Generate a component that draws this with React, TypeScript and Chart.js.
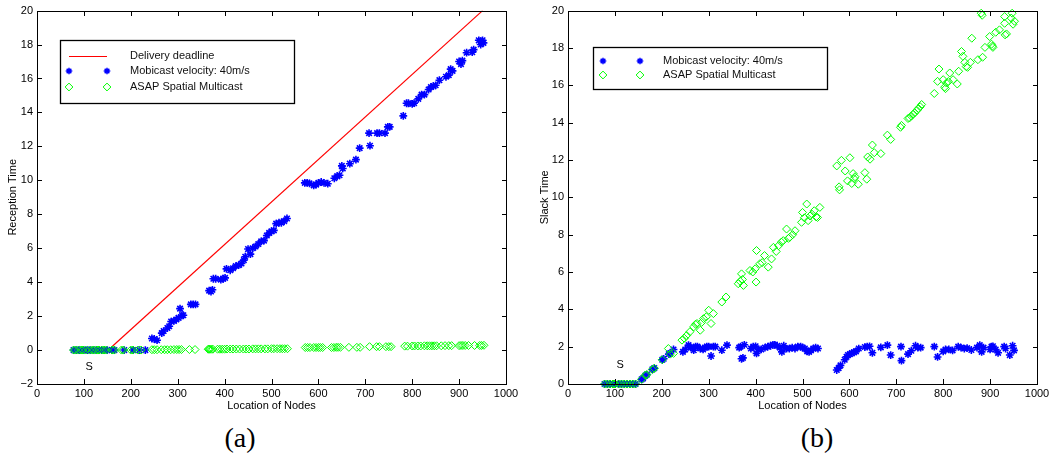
import React, { useEffect, useRef } from 'react';
import { Chart, registerables } from 'chart.js';

Chart.register(...registerables);

const FONT = '"Liberation Sans", Arial, Helvetica, sans-serif';

// ---------- data ----------
const xTickStep = 100;
const deadlineLoc = [152, 950];
const deadlineTime = [0, 20];

// (a) Reception time
const mobicastLocA = [78, 84, 90, 96, 100, 108, 114, 120, 126, 132, 138, 144, 150, 160, 165, 186, 205, 218, 231,
  245, 250, 256, 266, 270, 278, 282, 286, 292, 297, 302, 305, 309, 312, 328, 333, 338,
  367, 371, 374, 376, 381, 392, 397, 401, 404, 412, 418, 424, 430, 436, 441, 444, 450, 455, 460, 466, 472, 478, 484, 490, 495, 500, 505, 510, 516, 521, 527, 533,
  571, 576, 581, 590, 595, 600, 606, 612, 620, 634, 640, 645, 650, 652, 667, 680, 688, 708, 710, 725, 730, 742, 748, 752,
  781, 788, 792, 800, 804, 813, 820, 826, 835, 840, 845, 850, 858, 872, 878, 882, 886, 900, 904, 907, 916, 928, 931, 942, 946, 950, 952];
const mobicastTimeA = [0, 0, 0, 0, 0, 0, 0, 0, 0, 0, 0, 0, 0, 0, 0, 0, 0, 0, 0,
  0.68, 0.65, 0.58, 1.0, 1.12, 1.3, 1.4, 1.68, 1.72, 1.8, 1.9, 2.44, 2.05, 2.05, 2.69, 2.69, 2.69,
  3.5, 3.45, 3.55, 4.2, 4.2, 4.15, 4.2, 4.25, 4.78, 4.7, 4.82, 4.95, 5.0, 5.1, 5.3, 5.5, 5.95, 5.65, 6.0, 6.1, 6.25, 6.4, 6.45, 6.75, 6.9, 7.0, 7.05, 7.45, 7.5, 7.5, 7.6, 7.75,
  9.85, 9.85, 9.82, 9.7, 9.75, 9.85, 9.9, 9.85, 9.8, 10.12, 10.25, 10.3, 10.85, 10.7, 10.98, 11.22, 11.9, 12.78, 12.04, 12.78, 12.78, 12.78, 13.15, 13.15,
  13.8, 14.54, 14.54, 14.5, 14.55, 14.8, 15.05, 15.05, 15.35, 15.5, 15.55, 15.6, 15.9, 16.1, 16.2, 16.55, 16.45, 17.0, 16.85, 17.05, 17.52, 17.55, 17.7, 18.25, 18.0, 18.25, 18.1];

const asapLocA = [78, 82, 88, 94, 98, 104, 112, 118, 122, 128, 132, 138, 143, 148, 160, 165, 180, 184, 200, 205, 215, 222,
  245, 250, 256, 265, 272, 278, 285, 292, 298, 303, 308, 325, 337,
  365, 367, 369, 372, 375, 385, 390, 395, 400, 405, 412, 418, 425, 432, 440, 446, 452, 460, 466, 472, 478, 486, 492, 500, 505, 512, 518, 523, 528, 534,
  572, 577, 582, 590, 595, 600, 604, 609, 628, 633, 638, 642, 647, 665, 682, 689,
  709, 724, 730, 744, 750, 755,
  784, 790, 800, 805, 812, 818, 826, 832, 837, 842, 847, 852, 862, 870, 878, 884, 900, 904, 908, 913, 920, 933, 944, 948, 953];
const asapTimeA = [0, 0, 0, 0, 0, 0, 0, 0, 0, 0, 0, 0, 0, 0, 0, 0, 0, 0, 0, 0, 0, 0,
  0.02, 0.02, 0.02, 0.02, 0.02, 0.02, 0.02, 0.03, 0.03, 0.03, 0.03, 0.03, 0.03,
  0.05, 0.05, 0.05, 0.05, 0.05, 0.05, 0.05, 0.05, 0.05, 0.06, 0.06, 0.06, 0.06, 0.06, 0.06, 0.06, 0.06, 0.07, 0.07, 0.07, 0.07, 0.07, 0.07, 0.08, 0.08, 0.08, 0.08, 0.08, 0.08, 0.08,
  0.15, 0.15, 0.15, 0.15, 0.15, 0.15, 0.15, 0.15, 0.15, 0.15, 0.16, 0.16, 0.16, 0.16, 0.16, 0.16,
  0.2, 0.2, 0.2, 0.2, 0.2, 0.2,
  0.23, 0.23, 0.24, 0.24, 0.24, 0.24, 0.25, 0.25, 0.25, 0.25, 0.25, 0.25, 0.25, 0.26, 0.26, 0.26, 0.26, 0.27, 0.27, 0.27, 0.27, 0.27, 0.27, 0.27, 0.28];

// (b) Slack time
const mobicastLocB = [78, 84, 90, 96, 100, 108, 114, 120, 126, 132, 138, 144,
  157, 160, 165, 168, 180, 184, 201, 204, 215, 218, 225,
  245, 250, 257, 262, 268, 272, 276, 282, 288, 292, 296, 300, 305, 310, 314, 328, 339,
  365, 368, 370, 373, 376, 390, 395, 400, 402, 406, 412, 420, 426, 432, 437, 441, 446, 452, 456, 460, 466, 472, 478, 484, 490, 496, 500, 505, 510, 514, 518, 523, 528, 533,
  573, 577, 581, 590, 594, 597, 601, 605, 610, 614, 620, 633, 638, 643, 649, 667, 681, 688, 710, 711, 725, 732, 741, 746, 752,
  781, 788, 800, 805, 812, 820, 832, 838, 845, 851, 860, 872, 878, 882, 886, 900, 903, 906, 912, 917, 930, 933, 942, 948, 951];
const mobicastSlackB = [0, 0, 0, 0, 0, 0, 0, 0, 0, 0, 0, 0,
  0.25, 0.3, 0.45, 0.5, 0.78, 0.85, 1.3, 1.35, 1.6, 1.65, 1.85,
  1.72, 1.85, 2.08, 1.95, 1.81, 2.0, 2.0, 1.9, 1.85, 1.95, 2.0, 2.0, 1.5, 2.0, 2.0, 1.81, 2.08,
  1.95, 2.0, 1.35, 1.4, 2.1, 1.9, 2.0, 2.02, 1.64, 1.85, 1.85, 1.95, 2.0, 2.05, 2.1, 2.1, 2.05, 1.95, 1.72, 2.05, 1.9, 1.9, 1.95, 1.9, 2.0, 2.0, 1.95, 1.9, 1.75, 1.72, 1.8, 1.9, 1.95, 1.9,
  0.75, 0.85, 1.0, 1.3, 1.46, 1.55, 1.6, 1.65, 1.7, 1.75, 1.9, 1.98, 2.0, 2.02, 1.67, 1.96, 2.08, 1.55, 2.0, 1.25, 1.6, 1.78, 2.05, 1.95, 1.95,
  2.0, 1.45, 1.75, 1.85, 1.85, 1.8, 2.0, 1.95, 1.9, 1.92, 1.82, 1.95, 2.08, 1.72, 1.95, 1.85, 2.0, 2.02, 1.85, 1.67, 2.0, 1.9, 1.55, 2.05, 1.8];

const asapLocB = [78, 84, 90, 96, 100, 108, 114, 120, 126, 132, 138, 144,
  157, 165, 168, 180, 184, 201, 214, 218, 225, 243, 248, 253, 260, 268, 272, 275, 282, 285, 289, 295, 300, 305, 310, 328, 337,
  363, 367, 370, 372, 374, 388, 394, 399, 401, 402, 409, 414, 419, 427, 434, 438, 444, 449, 455, 459, 466, 470, 473, 479, 484, 498, 500, 504, 509, 512, 516, 520, 525, 529, 532, 537,
  573, 578, 579, 583, 591, 596, 601, 605, 608, 610, 612, 619, 633, 637, 639, 644, 649, 653, 667, 681, 688,
  709, 711, 725, 728, 732, 736, 739, 744, 747, 751, 754,
  781, 788, 791, 800, 803, 805, 807, 811, 814, 821, 830, 833, 839, 842, 846, 849, 852, 858, 861, 874, 881, 883, 884, 889, 899, 903, 905, 906, 912, 920, 931, 931, 932, 935, 945, 947, 949, 952];
const asapSlackB = [0, 0, 0, 0, 0, 0, 0, 0, 0, 0, 0, 0,
  0.25, 0.48, 0.5, 0.78, 0.84, 1.3, 1.9, 1.6, 1.64, 2.35, 2.45, 2.6, 2.8, 3.06, 3.2, 3.24, 2.88, 3.3, 3.5, 3.6, 3.95, 3.24, 3.77, 4.39, 4.66,
  5.37, 5.5, 5.9, 5.6, 5.28, 6.08, 6.0, 6.17, 5.46, 7.15, 6.44, 6.5, 6.88, 6.26, 6.7, 7.32, 7.1, 7.41, 7.6, 7.68, 8.3, 7.8, 7.86, 8.0, 8.21, 8.66, 9.19, 8.9, 9.64, 8.75, 9.0, 9.1, 9.28, 8.95, 8.92, 9.46,
  11.68, 10.56, 10.4, 11.98, 11.41, 10.88, 12.12, 10.74, 11.27, 11.0, 11.1, 10.7, 11.32, 10.97, 12.16, 12.04, 12.8, 12.39, 12.34, 13.33, 13.1,
  13.75, 13.85, 14.22, 14.25, 14.35, 14.45, 14.52, 14.65, 14.76, 14.85, 14.97,
  15.56, 16.21, 16.87, 16.3, 15.9, 15.82, 16.12, 16.2, 16.66, 16.3, 16.07, 16.75, 17.81, 17.55, 17.23, 17.0, 16.96, 17.23, 18.52, 17.37, 19.86, 19.75, 17.5, 18.03, 18.61, 18.2, 18.1, 18.03, 18.84, 18.97, 19.68, 19.32, 18.7, 18.75, 19.6, 19.86, 19.27, 19.43];

const legendLabelsA = ['Delivery deadline', 'Mobicast velocity: 40m/s', 'ASAP Spatial Multicast'];
const legendLabelsB = ['Mobicast velocity: 40m/s', 'ASAP Spatial Multicast'];
const sourceLabel = 'S';
const sourceLocA = [111, -1.0];
const sourceLocB = [111, 1.0];

// ---------- helpers ----------
const BLUE = '#0000ff';
const GREEN = '#00ff00';
const RED = '#ff0000';
const STAR_R = 3.9;
const DIAMOND_R = 4;

const zip = (xs: number[], ys: number[]) => xs.map((x, i) => ({ x, y: ys[i] }));

function drawStar(ctx: CanvasRenderingContext2D, x: number, y: number, r: number) {
  ctx.save();
  ctx.strokeStyle = BLUE;
  ctx.lineWidth = 1.5;
  ctx.beginPath();
  for (let k = 0; k < 4; k++) {
    const a = (k * Math.PI) / 4;
    ctx.moveTo(x - r * Math.cos(a), y - r * Math.sin(a));
    ctx.lineTo(x + r * Math.cos(a), y + r * Math.sin(a));
  }
  ctx.stroke();
  ctx.restore();
}
function drawDiamond(ctx: CanvasRenderingContext2D, x: number, y: number, r: number) {
  ctx.save();
  ctx.strokeStyle = GREEN;
  ctx.lineWidth = 1;
  ctx.beginPath();
  ctx.moveTo(x, y - r);
  ctx.lineTo(x + r, y);
  ctx.lineTo(x, y + r);
  ctx.lineTo(x - r, y);
  ctx.closePath();
  ctx.stroke();
  ctx.restore();
}

type LegendSpec = {
  box: [number, number, number, number];
  m1: number;
  m2: number;
  textX: number;
  rows: { kind: string; label: string; y: number }[];
};

function framePlugin(legend: LegendSpec, sLoc: number[]) {
  return {
    id: 'frame',
    afterDraw(chart: any) {
      const ctx: CanvasRenderingContext2D = chart.ctx;
      const a = chart.chartArea;
      const xs = chart.scales.x;
      const ys = chart.scales.y;
      ctx.save();
      // axes box + inward ticks (drawn as 1px rectangles)
      ctx.fillStyle = '#000';
      const L = Math.round(a.left), R = Math.round(a.right);
      const T = Math.round(a.top), B = Math.round(a.bottom);
      ctx.fillRect(L, T, R - L + 1, 1);
      ctx.fillRect(L, B, R - L + 1, 1);
      ctx.fillRect(L, T, 1, B - T + 1);
      ctx.fillRect(R, T, 1, B - T + 1);
      const tl = 5;
      const xt: any[] = xs.ticks || [];
      for (const t of xt) {
        const p = Math.round(xs.getPixelForValue(t.value));
        ctx.fillRect(p, B - tl, 1, tl);
        ctx.fillRect(p, T, 1, tl);
      }
      const yt: any[] = ys.ticks || [];
      for (const t of yt) {
        const p = Math.round(ys.getPixelForValue(t.value));
        ctx.fillRect(L, p, tl, 1);
        ctx.fillRect(R - tl + 1, p, tl, 1);
      }
      // source label
      ctx.fillStyle = '#000';
      ctx.font = `11px ${FONT}`;
      ctx.textAlign = 'center';
      ctx.textBaseline = 'middle';
      ctx.fillText(sourceLabel, xs.getPixelForValue(sLoc[0]), ys.getPixelForValue(sLoc[1]));

      // legend
      const [bx, by, bw, bh] = legend.box;
      ctx.fillStyle = '#fff';
      ctx.fillRect(bx, by, bw, bh);
      ctx.strokeStyle = '#000';
      ctx.lineWidth = 1.3;
      ctx.strokeRect(bx + 0.5, by + 0.5, bw, bh);
      ctx.font = `11px ${FONT}`;
      ctx.textAlign = 'left';
      ctx.textBaseline = 'middle';
      legend.rows.forEach((row) => {
        if (row.kind === 'line') {
          ctx.fillStyle = RED;
          ctx.fillRect(legend.m1, row.y, legend.m2 - legend.m1, 1);
        } else if (row.kind === 'star') {
          drawStar(ctx, legend.m1, row.y, 3.3);
          drawStar(ctx, legend.m2, row.y, 3.3);
        } else {
          drawDiamond(ctx, legend.m1, row.y, 3.9);
          drawDiamond(ctx, legend.m2, row.y, 3.9);
        }
        ctx.fillStyle = '#111';
        ctx.fillText(row.label, legend.textX, row.y);
      });
      ctx.restore();
    },
  };
}

const tickFont = { family: FONT, size: 11 };

function makeConfig(panel: 'a' | 'b'): any {
  const isA = panel === 'a';
  const datasets: any[] = [];
  datasets.push({
    label: 'ASAP Spatial Multicast',
    data: isA ? zip(asapLocA, asapTimeA) : zip(asapLocB, asapSlackB),
    pointStyle: 'rectRot',
    pointRadius: DIAMOND_R,
    borderColor: GREEN,
    backgroundColor: 'rgba(0,0,0,0)',
    pointBorderWidth: 1,
    showLine: false,
    clip: false,
    order: 0,
  });
  datasets.push({
    label: 'Mobicast velocity: 40m/s',
    data: isA ? zip(mobicastLocA, mobicastTimeA) : zip(mobicastLocB, mobicastSlackB),
    pointStyle: 'star',
    pointRadius: STAR_R,
    borderColor: BLUE,
    backgroundColor: BLUE,
    pointBorderWidth: 1.6,
    showLine: false,
    clip: false,
    order: 1,
  });
  if (isA) {
    datasets.push({
      label: 'Delivery deadline',
      data: zip(deadlineLoc, deadlineTime),
      showLine: true,
      borderColor: RED,
      borderWidth: 1.2,
      pointRadius: 0,
      fill: false,
      order: 2,
    });
  }
  const legend: LegendSpec = isA
    ? {
        box: [60, 40, 234, 63],
        m1: 69,
        m2: 107,
        textX: 130,
        rows: [
          { kind: 'line', label: legendLabelsA[0], y: 56 },
          { kind: 'star', label: legendLabelsA[1], y: 71 },
          { kind: 'diamond', label: legendLabelsA[2], y: 87 },
        ],
      }
    : {
        box: [68, 47, 234, 42],
        m1: 78,
        m2: 115,
        textX: 138,
        rows: [
          { kind: 'star', label: legendLabelsB[0], y: 61 },
          { kind: 'diamond', label: legendLabelsB[1], y: 75 },
        ],
      };
  return {
    type: 'scatter',
    data: { datasets },
    plugins: [framePlugin(legend, isA ? sourceLocA : sourceLocB)],
    options: {
      animation: false,
      responsive: false,
      events: [],
      layout: { padding: { left: 0, right: isA ? 19 : 18, top: 9, bottom: 0 } },
      plugins: { legend: { display: false }, tooltip: { enabled: false } },
      scales: {
        x: {
          type: 'linear',
          min: 0,
          max: 1000,
          afterFit: (s: any) => { s.height = 36; },
          grid: { display: false, drawTicks: false },
          border: { display: false },
          ticks: {
            stepSize: xTickStep,
            padding: 3,
            color: '#000',
            font: tickFont,
            maxRotation: 0,
            autoSkip: false,
            callback: (v: number) => String(v),
          },
          title: { display: true, text: 'Location of Nodes', color: '#000', font: tickFont, padding: { top: 0, bottom: 7 } },
        },
        y: {
          type: 'linear',
          min: isA ? -2 : 0,
          max: 20,
          afterFit: (s: any) => { s.width = isA ? 37 : 43; },
          grid: { display: false, drawTicks: false },
          border: { display: false },
          ticks: {
            stepSize: 2,
            padding: 4,
            color: '#000',
            font: tickFont,
            callback: (v: number) => (v < 0 ? '\u2212' + Math.abs(v) : String(v)),
          },
          title: {
            display: true,
            text: isA ? 'Reception Time' : 'Slack Time',
            color: '#000',
            font: tickFont,
            padding: { top: isA ? 6 : 13, bottom: 0 },
          },
        },
      },
    },
  };
}

function Panel({ panel, left, width }: { panel: 'a' | 'b'; left: number; width: number }) {
  const ref = useRef<HTMLCanvasElement>(null);
  useEffect(() => {
    const chart = new Chart(ref.current as HTMLCanvasElement, makeConfig(panel));
    return () => chart.destroy();
  }, [panel]);
  return (
    <canvas
      ref={ref}
      width={width}
      height={420}
      style={{ position: 'absolute', left, top: 0, width, height: 420 }}
    />
  );
}

const captionStyle: React.CSSProperties = {
  position: 'absolute',
  top: 423,
  width: 100,
  textAlign: 'center',
  fontFamily: '"Liberation Serif", "DejaVu Serif", serif',
  fontSize: 28,
  lineHeight: '30px',
  color: '#000',
};

export default function App() {
  return (
    <div style={{ position: 'fixed', left: 0, top: 0, width: 1055, height: 457, background: '#fff', overflow: 'hidden' }}>
      <Panel panel="a" left={0} width={525} />
      <Panel panel="b" left={525} width={530} />
      <div style={{ ...captionStyle, left: 190 }}>(a)</div>
      <div style={{ ...captionStyle, left: 767 }}>(b)</div>
    </div>
  );
}
